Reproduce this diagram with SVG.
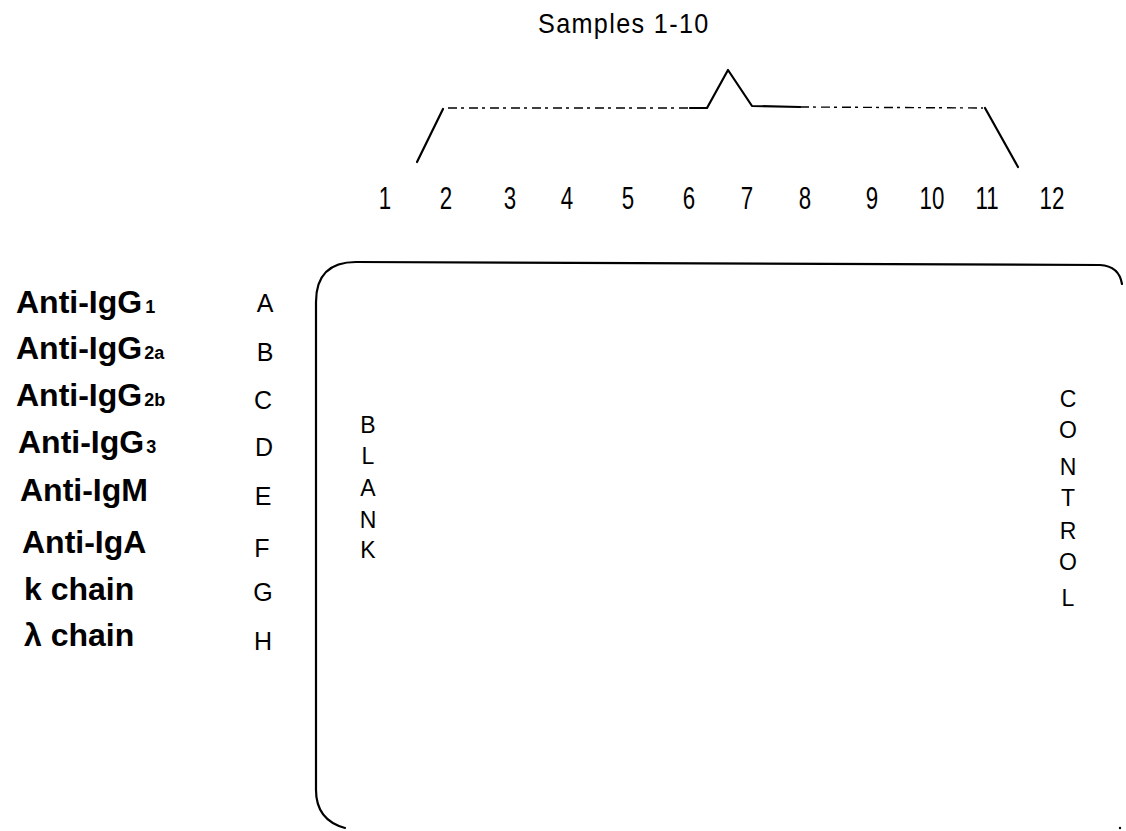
<svg xmlns="http://www.w3.org/2000/svg" width="1126" height="831" viewBox="0 0 1126 831">
  <style>
    .lab { font-family: "Liberation Sans", Arial, sans-serif; font-weight: bold; font-size: 32px; fill: #000; }
    .sub { font-size: 18px; }
    .row { font-family: "Liberation Sans", Arial, sans-serif; font-size: 25px; fill: #000; text-anchor: middle; }
    .col { font-family: "Liberation Sans", Arial, sans-serif; font-size: 31px; fill: #000; text-anchor: middle; }
    .vert { font-family: "Liberation Sans", Arial, sans-serif; font-size: 23px; fill: #000; text-anchor: middle; }
    .ttl { font-family: "Liberation Sans", Arial, sans-serif; font-size: 28px; fill: #000; letter-spacing: 1.5px; }
    .ln { fill: none; stroke: #000; stroke-width: 2.2; stroke-linecap: round; stroke-linejoin: round; }
    .thin { fill: none; stroke: #000; stroke-width: 1.4; stroke-dasharray: 9 4 3 5; }
  </style>

  <rect width="1126" height="831" fill="#fff"/>

  <!-- heading over the sample columns -->
  <g id="title">
    <text class="ttl" transform="translate(538,33) scale(0.9,1)">Samples 1-10</text>
  </g>

  <!-- brace grouping columns 2 to 11 -->
  <g id="connectors">
    <path class="ln" d="M417,162 L443,109"/>
    <path class="thin" d="M448,108 L706,108"/>
    <path class="ln" d="M690,108 L707,108 L728,70 L752,106 L800,107"/>
    <path class="thin" d="M800,107 L983,108"/>
    <path class="ln" d="M985,108 L1018,167"/>
  </g>

  <!-- column numbers -->
  <g id="columns">
    <text class="col" transform="translate(385,209) scale(0.72,1)">1</text>
    <text class="col" transform="translate(446,209) scale(0.72,1)">2</text>
    <text class="col" transform="translate(510,209) scale(0.72,1)">3</text>
    <text class="col" transform="translate(567,209) scale(0.72,1)">4</text>
    <text class="col" transform="translate(628,209) scale(0.72,1)">5</text>
    <text class="col" transform="translate(689,209) scale(0.72,1)">6</text>
    <text class="col" transform="translate(747,209) scale(0.72,1)">7</text>
    <text class="col" transform="translate(805,209) scale(0.72,1)">8</text>
    <text class="col" transform="translate(872,209) scale(0.72,1)">9</text>
    <text class="col" transform="translate(932,209) scale(0.72,1)">10</text>
    <text class="col" transform="translate(987,209) scale(0.72,1)">11</text>
    <text class="col" transform="translate(1052,209) scale(0.72,1)">12</text>
  </g>

  <!-- plate outline -->
  <g id="plate">
    <path class="ln" d="M1122,284 Q1119,266 1100,265 L356,262 Q316,262 316,302 L316,790 Q316,820 345,828"/>
    <circle cx="1120" cy="828" r="1.2" fill="#000"/>
  </g>

  <!-- antibody labels -->
  <g id="labels">
    <text class="lab" x="16" y="313">Anti-IgG<tspan class="sub" dx="3">1</tspan></text>
    <text class="lab" x="16" y="359">Anti-IgG<tspan class="sub" dx="2">2a</tspan></text>
    <text class="lab" x="16" y="406">Anti-IgG<tspan class="sub" dx="2">2b</tspan></text>
    <text class="lab" x="18" y="453">Anti-IgG<tspan class="sub" dx="2">3</tspan></text>
    <text class="lab" x="20" y="501">Anti-IgM</text>
    <text class="lab" x="22" y="553">Anti-IgA</text>
    <text class="lab" x="24" y="600">k chain</text>
    <text class="lab" x="24" y="646">λ chain</text>
  </g>

  <!-- row letters -->
  <g id="rows">
    <text class="row" x="265" y="312">A</text>
    <text class="row" x="265" y="361">B</text>
    <text class="row" x="263" y="409">C</text>
    <text class="row" x="264" y="456">D</text>
    <text class="row" x="263" y="505">E</text>
    <text class="row" x="262" y="557">F</text>
    <text class="row" x="263" y="601">G</text>
    <text class="row" x="263" y="650">H</text>
  </g>

  <!-- blank column -->
  <g id="blank">
    <text class="vert" x="368" y="433">B</text>
    <text class="vert" x="368" y="464">L</text>
    <text class="vert" x="368" y="496">A</text>
    <text class="vert" x="368" y="528">N</text>
    <text class="vert" x="368" y="558">K</text>
  </g>

  <!-- control column -->
  <g id="control">
    <text class="vert" x="1068" y="407">C</text>
    <text class="vert" x="1068" y="438">O</text>
    <text class="vert" x="1068" y="475">N</text>
    <text class="vert" x="1068" y="506">T</text>
    <text class="vert" x="1068" y="539">R</text>
    <text class="vert" x="1068" y="570">O</text>
    <text class="vert" x="1068" y="606">L</text>
  </g>
</svg>
